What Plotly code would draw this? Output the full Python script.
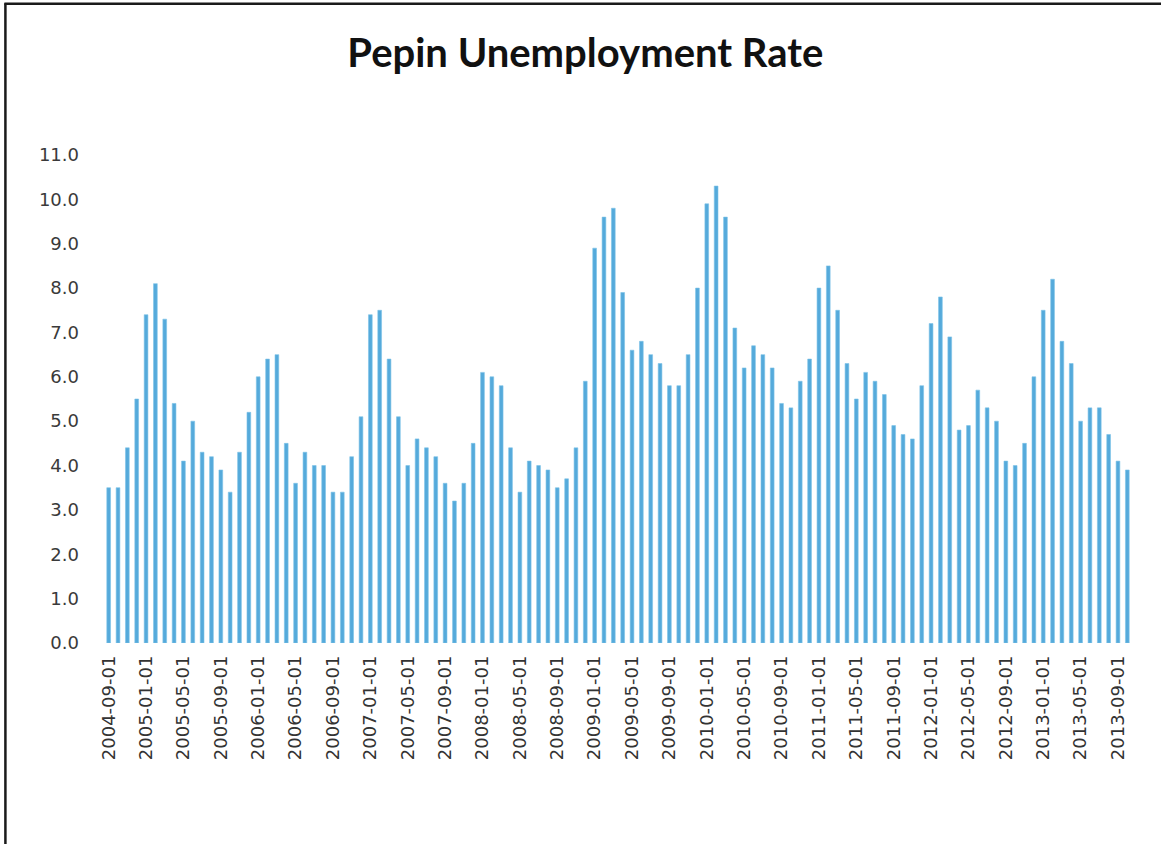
import pandas as pd
import plotly.graph_objects as go

# Monthly observations, Sep 2004 through Oct 2013
months = [d.strftime("%Y-%m-%d") for d in pd.date_range("2004-09-01", "2013-10-01", freq="MS")]

rate_2004 = [3.5, 3.5, 4.4, 5.5]
rate_2005 = [7.4, 8.1, 7.3, 5.4, 4.1, 5.0, 4.3, 4.2, 3.9, 3.4, 4.3, 5.2]
rate_2006 = [6.0, 6.4, 6.5, 4.5, 3.6, 4.3, 4.0, 4.0, 3.4, 3.4, 4.2, 5.1]
rate_2007 = [7.4, 7.5, 6.4, 5.1, 4.0, 4.6, 4.4, 4.2, 3.6, 3.2, 3.6, 4.5]
rate_2008 = [6.1, 6.0, 5.8, 4.4, 3.4, 4.1, 4.0, 3.9, 3.5, 3.7, 4.4, 5.9]
rate_2009 = [8.9, 9.6, 9.8, 7.9, 6.6, 6.8, 6.5, 6.3, 5.8, 5.8, 6.5, 8.0]
rate_2010 = [9.9, 10.3, 9.6, 7.1, 6.2, 6.7, 6.5, 6.2, 5.4, 5.3, 5.9, 6.4]
rate_2011 = [8.0, 8.5, 7.5, 6.3, 5.5, 6.1, 5.9, 5.6, 4.9, 4.7, 4.6, 5.8]
rate_2012 = [7.2, 7.8, 6.9, 4.8, 4.9, 5.7, 5.3, 5.0, 4.1, 4.0, 4.5, 6.0]
rate_2013 = [7.5, 8.2, 6.8, 6.3, 5.0, 5.3, 5.3, 4.7, 4.1, 3.9]

rates = (rate_2004 + rate_2005 + rate_2006 + rate_2007 + rate_2008
         + rate_2009 + rate_2010 + rate_2011 + rate_2012 + rate_2013)

tick_labels = months[::4]
y_ticks = [0, 1, 2, 3, 4, 5, 6, 7, 8, 9, 10, 11]

W, H = 1161, 844
L, R, T, B = 103.6, 29.3, 155, 200.5
plot_w = W - L - R
plot_h = H - T - B


def px_x(px):
    return (px - L) / plot_w


def px_y(py):
    return (H - B - py) / plot_h


fig = go.Figure(
    go.Bar(
        x=months,
        y=rates,
        marker=dict(color="#55aadb", line=dict(color="#7cc2e8", width=0.6)),
        hoverinfo="x+y",
    )
)

fig.update_layout(
    width=W,
    height=H,
    margin=dict(l=L, r=R, t=T, b=B, autoexpand=False),
    paper_bgcolor="white",
    plot_bgcolor="white",
    bargap=0.6,
    showlegend=False,
    title=dict(
        text="<b>Pepin Unemployment Rate</b>",
        x=px_x(585),
        xref="paper",
        xanchor="center",
        y=1 - 53 / H,
        yref="container",
        yanchor="middle",
        font=dict(family="Lato", size=40, color="#111111"),
    ),
    xaxis=dict(
        type="category",
        tickmode="array",
        tickvals=tick_labels,
        ticktext=tick_labels,
        tickangle=-90,
        tickfont=dict(family="DejaVu Sans", size=18, color="#333333"),
        showgrid=False,
        zeroline=False,
        showline=False,
        ticks="",
        ticklabelstandoff=8,
        range=[-0.5, len(months) - 0.5],
    ),
    yaxis=dict(
        range=[0, 11],
        tickmode="array",
        tickvals=y_ticks,
        tickformat=".1f",
        tickfont=dict(family="DejaVu Sans", size=18, color="#3a3a3a"),
        showgrid=False,
        zeroline=False,
        showline=False,
        ticks="",
        ticklabelstandoff=24,
    ),
    shapes=[
        # chart frame: top and left edges
        dict(type="line", xref="paper", yref="paper",
             x0=px_x(4), x1=px_x(W + 5), y0=px_y(3.5), y1=px_y(3.5),
             line=dict(color="#1a1a1a", width=2.5)),
        dict(type="line", xref="paper", yref="paper",
             x0=px_x(5), x1=px_x(5), y0=px_y(3), y1=px_y(H + 5),
             line=dict(color="#1a1a1a", width=2.5)),
    ],
)

fig.write_html("out.html")
